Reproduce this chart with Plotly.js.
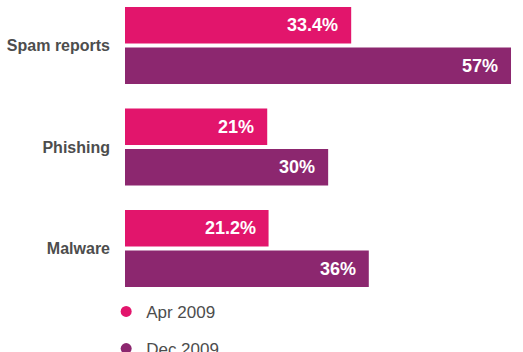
<!DOCTYPE html>
<html>
<head>
<meta charset="utf-8">
<script src="https://cdn.plot.ly/plotly-3.0.1.min.js"></script>
<style>html,body{margin:0;padding:0;background:#fff;}#chart{width:523px;height:352px;}</style>
</head>
<body>
<div id="chart"></div>
<script>
const categories = ["Spam reports", "Phishing", "Malware"];
const seriesNames = ["Apr 2009", "Dec 2009"];
const apr2009 = [33.4, 21, 21.2];
const dec2009 = [57, 30, 36];

const pink = "#e2156c";
const purple = "#8c276f";
const labelFont = "Liberation Sans, Arial, sans-serif";

const fmt = v => v + "%";

const traces = [
  {type: "bar", orientation: "h", name: seriesNames[0], y: categories, x: apr2009,
   marker: {color: pink}, showlegend: false, hoverinfo: "none"},
  {type: "bar", orientation: "h", name: seriesNames[1], y: categories, x: dec2009,
   marker: {color: purple}, showlegend: false, hoverinfo: "none"},
  {type: "scatter", mode: "markers", name: seriesNames[0], x: [null], y: [null],
   marker: {color: pink, size: 11, symbol: "circle"}, legendgroup: "a"},
  {type: "scatter", mode: "markers", name: seriesNames[1], x: [null], y: [null],
   marker: {color: purple, size: 11, symbol: "circle"}, legendgroup: "b"}
];

const annotations = [];
const offset = 0.2;
[apr2009, dec2009].forEach((series, s) => {
  series.forEach((v, i) => {
    annotations.push({
      x: v, y: i + (s === 0 ? -offset : offset), xref: "x", yref: "y",
      text: fmt(v), showarrow: false, xanchor: "right", yanchor: "middle",
      xshift: -11, font: {family: labelFont, size: 18, color: "#ffffff", weight: "bold"}
    });
  });
});

const layout = {
  width: 523, height: 352,
  margin: {l: 125, r: 0, t: 0, b: 0, autoexpand: false},
  paper_bgcolor: "#ffffff", plot_bgcolor: "#ffffff",
  barmode: "group", bargap: 0.2, bargroupgap: 0.1,
  xaxis: {range: [0, 58.77], showgrid: false, zeroline: false, showticklabels: false, showline: false, fixedrange: true, automargin: false},
  yaxis: {type: "category", range: [3.02, -0.448], showgrid: false, zeroline: false, showline: false,
          ticks: "", ticklabelstandoff: 14, automargin: false,
          tickfont: {family: labelFont, size: 16, color: "#4d4d4d", weight: "bold"}},
  showlegend: true,
  legend: {xref: "container", yref: "container", x: 0.203, y: 0.165, xanchor: "left", yanchor: "top",
           orientation: "v", traceorder: "grouped", tracegroupgap: 12,
           font: {family: labelFont, size: 17, color: "#4d4d4d"}, bgcolor: "rgba(0,0,0,0)"},
  annotations: annotations
};

Plotly.newPlot("chart", traces, layout, {staticPlot: true, displayModeBar: false});
</script>
</body>
</html>
